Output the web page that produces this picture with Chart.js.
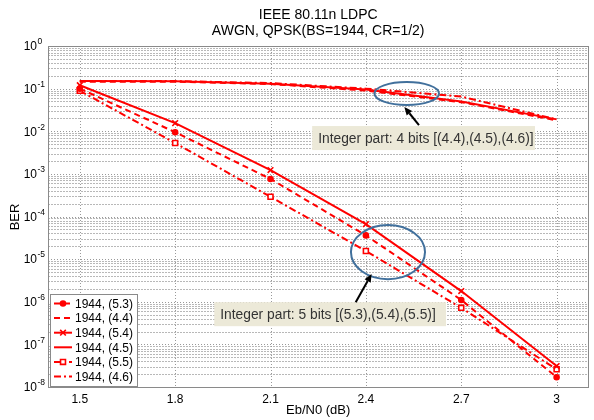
<!DOCTYPE html>
<html>
<head>
<meta charset="utf-8">
<script src="https://cdn.jsdelivr.net/npm/chart.js@4/dist/chart.umd.min.js"></script>
<style>
html, body { margin: 0; padding: 0; background: #fff; }
#wrap { width: 594px; height: 420px; position: relative; }
</style>
</head>
<body>
<div id="wrap"><canvas id="chart"></canvas></div>
<script>
// Eb/N0 points (dB) and BER
const ebn0 = [1.5, 1.8, 2.1, 2.4, 2.7, 3];
const xTickLabels = ['1.5', '1.8', '2.1', '2.4', '2.7', '3'];

const ber53 = [0.100, 0.0095, 7.6e-4, 3.6e-5, 1.1e-6, 1.7e-8];
const ber44 = [0.145, 0.145, 0.128, 0.090, 0.048, 0.018];
const ber54 = [0.120, 0.0155, 1.23e-3, 6.6e-5, 1.78e-6, 3.1e-8];
const ber45 = [0.150, 0.148, 0.130, 0.095, 0.050, 0.019];
const ber55 = [0.089, 0.0053, 2.9e-4, 1.55e-5, 7.2e-7, 2.6e-8];
const ber46 = [0.150, 0.150, 0.135, 0.100, 0.065, 0.019];

const seriesLabels = ['1944, (5.3)', '1944, (4.4)', '1944, (5.4)', '1944, (4.5)', '1944, (5.5)', '1944, (4.6)'];
const decades = [-8, -7, -6, -5, -4, -3, -2, -1, 0];

// annotation anchors in data units
const ellipses = [
    {x0: 2.427, x1: 2.630, y0: 10 ** -0.845, y1: 10 ** -1.385},
    {x0: 2.353, x1: 2.586, y0: 10 ** -4.20, y1: 10 ** -5.47}
];
const arrows = [
    {from: [2.567, 10 ** -1.854], to: [2.521, 10 ** -1.432]},
    {from: [2.368, 10 ** -6.01], to: [2.418, 10 ** -5.35]}
];
const noteBoxes = [
    {x0: 2.231, x1: 2.932, y0: 10 ** -1.878, y1: 10 ** -2.441, text: 'Integer part: 4 bits [(4.4),(4.5),(4.6)]'},
    {x0: 1.923, x1: 2.652, y0: 10 ** -6.01, y1: 10 ** -6.573, text: 'Integer part: 5 bits [(5.3),(5.4),(5.5)]'}
];

const RED = '#ff0000';
const DASH = [6, 4];
const DASHDOT = [7, 3, 2, 3];
const FONT = '"Liberation Sans", Arial, sans-serif';

function series(label, values, dash, style, radius, fillColor) {
    return {
        label: label,
        data: ebn0.map((x, i) => ({x: x, y: values[i]})),
        borderColor: RED,
        backgroundColor: RED,
        borderWidth: 2,
        borderDash: dash,
        pointStyle: style,
        pointRadius: radius,
        pointBorderWidth: 1.6,
        pointBorderColor: RED,
        pointBackgroundColor: fillColor,
        tension: 0
    };
}

const datasets = [
    series(seriesLabels[0], ber53, DASH, 'circle', 2.5, RED),
    series(seriesLabels[1], ber44, DASH, 'circle', 0, RED),
    series(seriesLabels[2], ber54, [], 'crossRot', 4, RED),
    series(seriesLabels[3], ber45, [], 'circle', 0, RED),
    series(seriesLabels[4], ber55, DASHDOT, 'rect', 3.5, '#ffffff'),
    series(seriesLabels[5], ber46, DASHDOT, 'circle', 0, RED)
];

const decorPlugin = {
    id: 'decor',
    beforeDatasetsDraw(chart) {
        const ctx = chart.ctx;
        const area = chart.chartArea;
        const xs = chart.scales.x, ys = chart.scales.y;
        ctx.save();
        ctx.lineWidth = 1;
        // horizontal grid (decades + minor)
        decades.forEach((k) => {
            for (let m = 1; m <= 9; m++) {
                if (k === 0 && m > 1) break;
                const y = Math.round(ys.getPixelForValue(m * 10 ** k)) + 0.5;
                if (y <= area.top + 1 || y >= area.bottom - 1) continue;
                ctx.strokeStyle = m === 1 ? '#999999' : '#b8b8b8';
                ctx.setLineDash(m === 1 ? [1, 2] : [2, 1]);
                ctx.beginPath();
                ctx.moveTo(area.left, y);
                ctx.lineTo(area.right, y);
                ctx.stroke();
            }
        });
        // vertical grid
        ctx.strokeStyle = '#999999';
        ctx.setLineDash([1, 2]);
        ebn0.forEach((v) => {
            const x = Math.round(xs.getPixelForValue(v)) + 0.5;
            ctx.beginPath();
            ctx.moveTo(x, area.top);
            ctx.lineTo(x, area.bottom);
            ctx.stroke();
        });
        // frame
        ctx.setLineDash([]);
        ctx.strokeStyle = '#8a8a8a';
        ctx.strokeRect(Math.round(area.left) + 0.5, Math.round(area.top) + 0.5,
            Math.round(area.right - area.left), Math.round(area.bottom - area.top));
        ctx.restore();
    },
    afterDatasetsDraw(chart) {
        const ctx = chart.ctx;
        const area = chart.chartArea;
        const xs = chart.scales.x, ys = chart.scales.y;
        ctx.save();

        // ellipses
        ctx.strokeStyle = '#41709c';
        ctx.lineWidth = 2;
        ellipses.forEach((e) => {
            const x0 = xs.getPixelForValue(e.x0), x1 = xs.getPixelForValue(e.x1);
            const y0 = ys.getPixelForValue(e.y0), y1 = ys.getPixelForValue(e.y1);
            ctx.beginPath();
            ctx.ellipse((x0 + x1) / 2, (y0 + y1) / 2, Math.abs(x1 - x0) / 2, Math.abs(y1 - y0) / 2, 0, 0, Math.PI * 2);
            ctx.stroke();
        });

        // note boxes
        noteBoxes.forEach((b) => {
            const x0 = xs.getPixelForValue(b.x0), x1 = xs.getPixelForValue(b.x1);
            const y0 = ys.getPixelForValue(b.y0), y1 = ys.getPixelForValue(b.y1);
            ctx.fillStyle = '#ece9d8';
            ctx.fillRect(x0, y0, x1 - x0, y1 - y0);
            ctx.fillStyle = '#333333';
            ctx.font = '13.8px ' + FONT;
            ctx.textAlign = 'left';
            ctx.textBaseline = 'middle';
            ctx.fillText(b.text, x0 + 6, (y0 + y1) / 2 + 1);
        });

        // arrows
        ctx.strokeStyle = '#000000';
        ctx.fillStyle = '#000000';
        ctx.lineWidth = 2;
        arrows.forEach((a) => {
            const fx = xs.getPixelForValue(a.from[0]), fy = ys.getPixelForValue(a.from[1]);
            const tx = xs.getPixelForValue(a.to[0]), ty = ys.getPixelForValue(a.to[1]);
            const ang = Math.atan2(ty - fy, tx - fx);
            const len = 8, half = 3.5;
            const bx = tx - len * Math.cos(ang), by = ty - len * Math.sin(ang);
            ctx.beginPath();
            ctx.moveTo(fx, fy);
            ctx.lineTo(bx, by);
            ctx.stroke();
            ctx.beginPath();
            ctx.moveTo(tx, ty);
            ctx.lineTo(bx + half * Math.sin(ang), by - half * Math.cos(ang));
            ctx.lineTo(bx - half * Math.sin(ang), by + half * Math.cos(ang));
            ctx.closePath();
            ctx.fill();
        });

        // legend
        const lx = area.left + 2, ly = area.bottom - 93, lw = 87, lh = 92;
        ctx.fillStyle = '#ffffff';
        ctx.fillRect(lx, ly, lw, lh);
        ctx.strokeStyle = '#8a8a8a';
        ctx.lineWidth = 1;
        ctx.setLineDash([]);
        ctx.strokeRect(Math.round(lx) + 0.5, Math.round(ly) + 0.5, lw, lh);
        chart.data.datasets.forEach((ds, i) => {
            const cy = ly + 9.5 + i * 14.6;
            ctx.save();
            ctx.strokeStyle = ds.borderColor;
            ctx.lineWidth = ds.borderWidth;
            ctx.setLineDash(ds.borderDash);
            ctx.beginPath();
            ctx.moveTo(lx + 4, cy);
            ctx.lineTo(lx + 22, cy);
            ctx.stroke();
            ctx.setLineDash([]);
            if (ds.pointRadius > 0) {
                ctx.fillStyle = ds.pointBackgroundColor;
                ctx.strokeStyle = ds.pointBorderColor;
                ctx.lineWidth = ds.pointBorderWidth;
                Chart.helpers.drawPoint(ctx, {pointStyle: ds.pointStyle, radius: ds.pointRadius, rotation: 0, borderWidth: ds.pointBorderWidth}, lx + 13, cy);
            }
            ctx.restore();
            ctx.fillStyle = '#000000';
            ctx.font = '12px ' + FONT;
            ctx.textAlign = 'left';
            ctx.textBaseline = 'middle';
            ctx.fillText(ds.label, lx + 25, cy + 1);
        });
        ctx.restore();
    },
    afterDraw(chart) {
        const ctx = chart.ctx;
        const area = chart.chartArea;
        const ys = chart.scales.y;
        const cx = (area.left + area.right) / 2;
        ctx.save();
        ctx.fillStyle = '#000000';
        // y tick labels 10^k
        decades.forEach((k) => {
            const y = ys.getPixelForValue(10 ** k);
            ctx.font = '12px ' + FONT;
            ctx.textAlign = 'right';
            ctx.textBaseline = 'middle';
            ctx.fillText('10', 37, y + 1);
            ctx.font = '8.5px ' + FONT;
            ctx.textAlign = 'left';
            ctx.fillText(String(k), 37.5, y - 4);
        });
        // titles
        ctx.font = '14px ' + FONT;
        ctx.textAlign = 'center';
        ctx.textBaseline = 'middle';
        ctx.fillText('IEEE 80.11n LDPC', cx, 15);
        ctx.fillText('AWGN, QPSK(BS=1944, CR=1/2)', cx, 31);
        ctx.font = '13px ' + FONT;
        ctx.fillText('Eb/N0 (dB)', cx, 410);
        ctx.translate(15, 217);
        ctx.rotate(-Math.PI / 2);
        ctx.fillText('BER', 0, 0);
        ctx.restore();
    }
};

new Chart(document.getElementById('chart'), {
    type: 'line',
    data: {datasets: datasets},
    options: {
        responsive: true,
        maintainAspectRatio: false,
        animation: false,
        devicePixelRatio: 1,
        layout: {padding: {top: 46, right: 1, bottom: 0, left: 0}},
        plugins: {legend: {display: false}, tooltip: {enabled: false}},
        scales: {
            x: {
                type: 'linear',
                min: 1.4,
                max: 3.1,
                afterBuildTicks: (scale) => { scale.ticks = ebn0.map((v) => ({value: v})); },
                afterFit: (scale) => { scale.height = 33; },
                grid: {display: false, drawTicks: false},
                border: {display: false},
                ticks: {
                    autoSkip: false,
                    maxRotation: 0,
                    padding: 5,
                    color: '#000000',
                    font: {family: FONT, size: 12},
                    callback: (v) => xTickLabels[ebn0.indexOf(v)]
                }
            },
            y: {
                type: 'logarithmic',
                min: 1e-8,
                max: 1,
                afterFit: (scale) => { scale.width = 48; },
                grid: {display: false, drawTicks: false},
                border: {display: false},
                ticks: {display: false}
            }
        }
    },
    plugins: [decorPlugin]
});
</script>
</body>
</html>
